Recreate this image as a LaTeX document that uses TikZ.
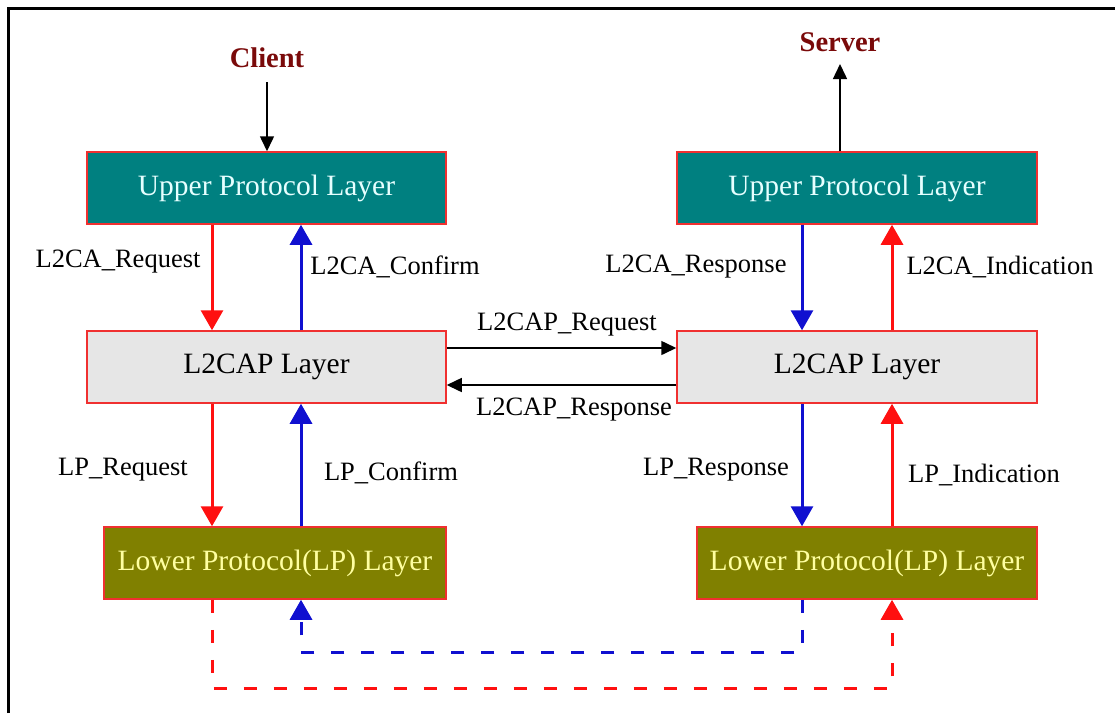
\documentclass[tikz,border=0pt]{standalone}
\usepackage{fontspec}
\setmainfont{Liberation Serif}
\usetikzlibrary{arrows.meta,calc}

\definecolor{upfill}{HTML}{008080}
\definecolor{uptext}{HTML}{E6FFFF}
\definecolor{l2fill}{HTML}{E6E6E6}
\definecolor{lpfill}{HTML}{808000}
\definecolor{lptext}{HTML}{FFFFA0}
\definecolor{edge}{HTML}{F03030}
\definecolor{reqred}{HTML}{FF1010}
\definecolor{rspblue}{HTML}{1010D0}
\definecolor{endpt}{HTML}{7A0A0A}

\tikzset{
  layerbox/.style={draw=edge, line width=1.5pt, minimum height=72pt, inner sep=0pt,
    font=\fontsize{29.5}{34}\selectfont},
  upperbox/.style={layerbox, fill=upfill, text=uptext},
  l2box/.style={layerbox, fill=l2fill, text=black},
  lpbox/.style={layerbox, fill=lpfill, text=lptext},
  sig/.style={font=\fontsize{26.5}{30}\selectfont, inner sep=0pt},
  endlabel/.style={font=\bfseries\fontsize{28.5}{32}\selectfont, text=endpt, inner sep=0pt},
  bigflow/.style={line width=3pt, -{Triangle[width=22pt,length=20pt]}},
  thinflow/.style={line width=1.5pt, -{Triangle[width=14pt,length=15pt]}},
  dashflow/.style={line width=3pt, dash pattern=on 13pt off 17pt,
    -{Triangle[width=22pt,length=20pt]}},
}

\begin{document}
\begin{tikzpicture}[x=1pt,y=-1pt]
\useasboundingbox (0,0) rectangle (1115,713);

% outer frame (only left and top edges fall inside the page)
\draw[line width=3pt] (8,713) -- (8,8) -- (1115,8);

% layer boxes
\node[upperbox, minimum width=359pt] (lu) at (266.5,188) {Upper Protocol Layer};
\node[upperbox, minimum width=360pt] (ru) at (857,188) {Upper Protocol Layer};
\node[l2box, minimum width=359pt] (ll) at (266.5,367) {L2CAP Layer};
\node[l2box, minimum width=360pt] (rl) at (857,367) {L2CAP Layer};
\node[lpbox, minimum width=342pt] (lp) at (275,563) {Lower Protocol(LP) Layer};
\node[lpbox, minimum width=340pt] (rp) at (867,563) {Lower Protocol(LP) Layer};

% end points
\node[endlabel] (client) at (267,58) {Client};
\node[endlabel] (server) at (840,42) {Server};
\coordinate (clientfoot) at (267,82);
\coordinate (serverhead) at (840,64);

\draw[thinflow] (clientfoot) -- (clientfoot |- lu.north);
\draw[thinflow] (serverhead |- ru.north) -- (serverhead);

% vertical columns of the signal arrows
\coordinate (xlr) at (212,0);
\coordinate (xlb) at (301,0);
\coordinate (xrb) at (802,0);
\coordinate (xrr) at (892,0);

% client side
\draw[bigflow, reqred] (xlr |- lu.south) -- (xlr |- ll.north);
\draw[bigflow, rspblue] (xlb |- ll.north) -- (xlb |- lu.south);
\draw[bigflow, reqred] (xlr |- ll.south) -- (xlr |- lp.north);
\draw[bigflow, rspblue] (xlb |- lp.north) -- (xlb |- ll.south);

% server side
\draw[bigflow, rspblue] (xrb |- ru.south) -- (xrb |- rl.north);
\draw[bigflow, reqred] (xrr |- rl.north) -- (xrr |- ru.south);
\draw[bigflow, rspblue] (xrb |- rl.south) -- (xrb |- rp.north);
\draw[bigflow, reqred] (xrr |- rp.north) -- (xrr |- rl.south);

% peer-to-peer L2CAP signalling
\coordinate (yreq) at (0,348);
\coordinate (yrsp) at (0,385);
\draw[thinflow] (ll.east |- yreq) -- (rl.west |- yreq);
\draw[thinflow] (rl.west |- yrsp) -- (ll.east |- yrsp);

% lower-layer transport paths
\coordinate (yblue) at (0,652);
\coordinate (yred) at (0,688);
\draw[dashflow, rspblue] (xrb |- rp.south) -- (xrb |- yblue) -- (xlb |- yblue) -- (xlb |- lp.south);
\draw[dashflow, reqred] (xlr |- lp.south) -- (xlr |- yred) -- (xrr |- yred) -- (xrr |- rp.south);

% signal labels
\node[sig] (t1) at (118,262) {L2CA\_Request};
\node[sig] (t2) at (395,267) {L2CA\_Confirm};
\node[sig] (t3) at (696,267) {L2CA\_Response};
\node[sig] (t4) at (1000,267) {L2CA\_Indication};
\node[sig] (t5) at (567,325) {L2CAP\_Request};
\node[sig] (t6) at (574,410) {L2CAP\_Response};
\node[sig] (t7) at (123,470) {LP\_Request};
\node[sig] (t8) at (391,473) {LP\_Confirm};
\node[sig] (t9) at (716,470) {LP\_Response};
\node[sig] (t10) at (984,475) {LP\_Indication};
\end{tikzpicture}
\end{document}
